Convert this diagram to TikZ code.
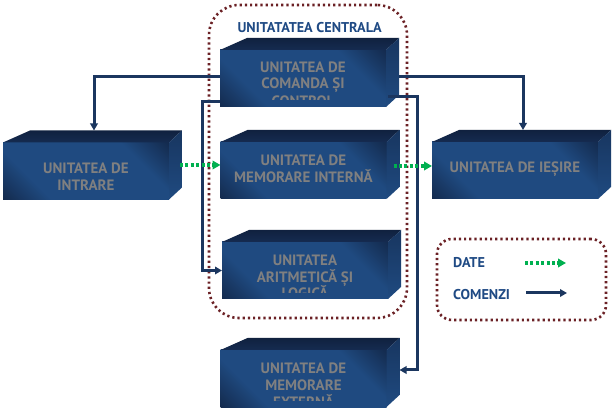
\documentclass[tikz,border=0pt]{standalone}
\usepackage{fontspec}
\newfontfamily\ptsans{PT Sans}
\usetikzlibrary{arrows.meta,calc}
\definecolor{boxdark}{HTML}{10213F}
\definecolor{boxblue}{HTML}{1F4A80}
\definecolor{topc}{HTML}{152B50}
\definecolor{sidetop}{HTML}{183660}
\definecolor{txtgray}{HTML}{808080}
\definecolor{cmdc}{HTML}{1B365F}
\definecolor{datc}{HTML}{00B050}
\definecolor{brdc}{HTML}{6B2125}
\definecolor{navytxt}{HTML}{1F4A84}
\pgfdeclarehorizontalshading{facesh}{100bp}{color(0bp)=(boxdark); color(10bp)=(boxdark); color(30bp)=(boxblue); color(70bp)=(boxblue); color(90bp)=(boxdark); color(100bp)=(boxdark)}
\tikzset{
  face/.style={minimum width=166pt, minimum height=57pt, inner sep=0pt, outer sep=0pt,
    shading=facesh, shading angle=45, shade},
  btxt/.style={text=txtgray, font=\ptsans\bfseries\fontsize{15}{16}\selectfont, inner sep=0pt, anchor=base},
  ttxt/.style={text=navytxt, font=\ptsans\bfseries\fontsize{14.2}{15}\selectfont, inner sep=0pt, anchor=base},
  ltxt/.style={text=navytxt, font=\ptsans\bfseries\fontsize{14.2}{15}\selectfont, inner sep=0pt, anchor=base west},
  cmd/.style={draw=cmdc, line width=3pt, -{Triangle[length=7pt,width=7.5pt]}},
  dat/.style={draw=datc, line width=3.2pt, dash pattern=on 3pt off 2.4pt, -{Triangle[length=8pt,width=8.5pt]}},
  brd/.style={draw=brdc, line width=2.6pt, dash pattern=on 2.2pt off 3pt, inner sep=0pt, outer sep=0pt}
}
\newcommand\boxsides[1]{%
  \shade[top color=boxdark,bottom color=topc] (#1.north west) -- ++(27,-12) -- ($(#1.north east)+(13,-12)$) -- (#1.north east) -- cycle;
  \shade[top color=sidetop,bottom color=boxblue] (#1.north east) -- ++(13,-12) -- ($(#1.south east)+(13,-12)$) -- (#1.south east) -- cycle;}
\begin{document}
\begin{tikzpicture}[x=1pt,y=-1pt]
\useasboundingbox (0,0) rectangle (613,411);
\fill[white] (0,0) rectangle (613,411);

% central unit border
\node[brd, rounded corners=30pt, minimum width=198pt, minimum height=313pt] (central) at (308,161.5) {};
\node[ttxt] (title) at (309.7,32.7) {UNITATATEA CENTRALA};

% legend border
\node[brd, rounded corners=15pt, minimum width=169pt, minimum height=81pt] (legend) at (521.5,279.5) {};
\node[ltxt] (ldate) at (453,268) {DATE};
\node[ltxt] (lcom) at (453,300) {COMENZI};
\coordinate (lda) at (525,263);
\coordinate (ldb) at (566,263);
\coordinate (lca) at (526,293);
\coordinate (lcb) at (567,293);
\draw[dat] (lda) -- (ldb);
\draw[cmd] (lca) -- (lcb);

% boxes
\node[face] (in)  at (86,171) {};
\node[face] (cu)  at (303,78.5) {};
\node[face] (mi)  at (303.5,170.5) {};
\node[face] (out) at (515,170.5) {};
\node[face] (alu) at (305,270.5) {};
\node[face] (me)  at (303.5,378.5) {};
\boxsides{in}\boxsides{cu}\boxsides{mi}\boxsides{out}\boxsides{alu}\boxsides{me}

% texts
\begin{scope}
\clip (cu.north west) rectangle ($(cu.north east)+(0,49.5)$);
\node[btxt] (cu1) at ($(cu.north)+(0,22.3)$) {UNITATEA DE};
\node[btxt] (cu2) at ($(cu.north)+(0,39)$) {COMANDA ȘI};
\node[btxt] (cu3) at ($(cu.north)+(0,56.6)$) {CONTROL};
\end{scope}
\node[btxt] (in1) at ($(in.north)+(0,31)$) {UNITATEA DE};
\node[btxt] (in2) at ($(in.north)+(0,47.6)$) {INTRARE};
\node[btxt] (mi1) at ($(mi.north)+(0,23.6)$) {UNITATEA DE};
\node[btxt] (mi2) at ($(mi.north)+(0,40.3)$) {MEMORARE INTERNĂ};
\node[btxt] (out1) at ($(out.north)+(0,30.6)$) {UNITATEA DE IEȘIRE};
\begin{scope}
\clip (alu.north west) rectangle ($(alu.north east)+(0,50.7)$);
\node[btxt] (alu1) at ($(alu.north)+(0,23.6)$) {UNITATEA};
\node[btxt] (alu2) at ($(alu.north)+(0,40.3)$) {ARITMETICĂ ȘI};
\node[btxt] (alu3) at ($(alu.north)+(0,57)$) {LOGICĂ};
\end{scope}
\begin{scope}
\clip (me.north west) rectangle ($(me.north east)+(0,50)$);
\node[btxt] (me1) at ($(me.north)+(0,23.6)$) {UNITATEA DE};
\node[btxt] (me2) at ($(me.north)+(0,40.6)$) {MEMORARE};
\node[btxt] (me3) at ($(me.north)+(0,57.3)$) {EXTERNĂ};
\end{scope}

% command connectors
\draw[cmd] ($(cu.north west)+(0,27)$) -| ($(in.north)+(8,-12)$);
\draw[cmd] ($(cu.north east)+(13,27)$) -| ($(out.north)+(8,-12)$);
\draw[cmd] ($(cu.north west)+(0,52)$) -| ($(alu.west)+(-20,0)$) -- (alu.west);
\draw[cmd] ($(cu.north east)+(2,46.7)$) -| ($(me.east)+(30.5,-8.5)$) -- ($(me.east)+(13,-8.5)$);

% data connectors
\draw[dat] ($(in.east)+(11,-6)$) -- ($(mi.west)+(0,-5.5)$);
\draw[dat] ($(mi.east)+(7,-4.5)$) -- ($(out.west)+(0,-4.5)$);
\end{tikzpicture}
\end{document}
